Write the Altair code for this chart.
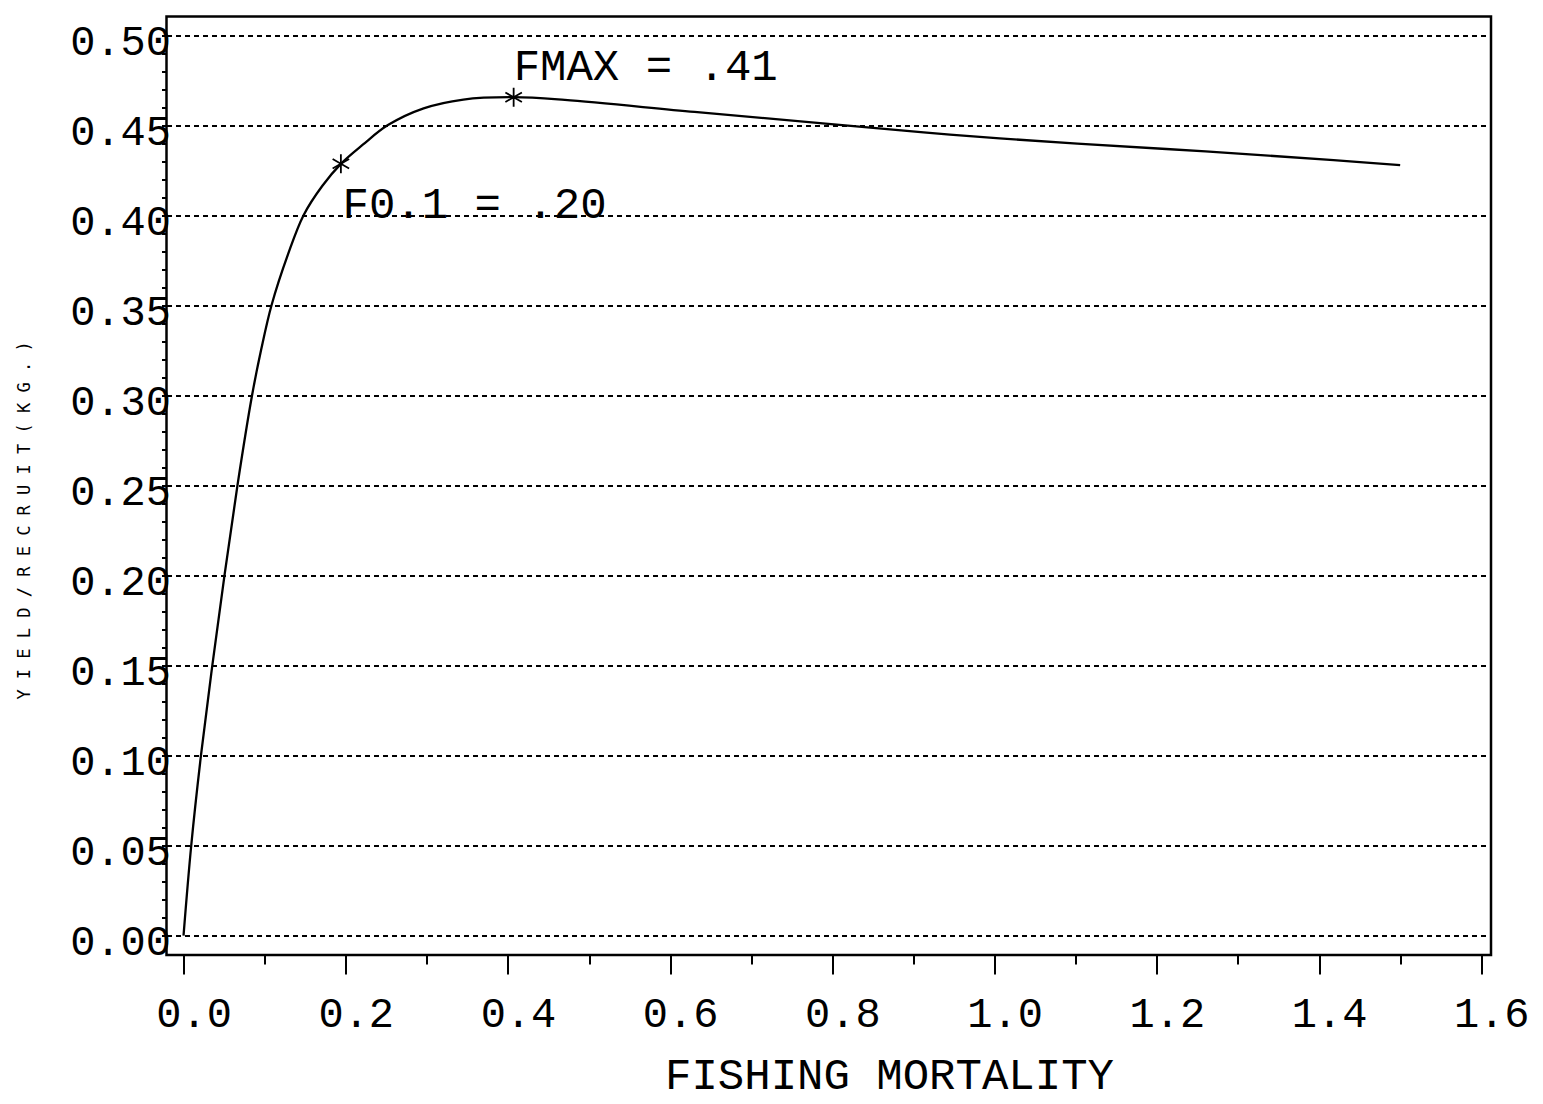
import altair as alt
import pandas as pd

# Yield-per-recruit curve
F = [0.0, 0.0095, 0.0215, 0.0355, 0.0505, 0.0665, 0.0845, 0.0958, 0.1085, 0.129,
     0.148, 0.171, 0.194, 0.221, 0.252, 0.296, 0.345, 0.407, 0.47, 0.63, 0.788,
     0.945, 1.102, 1.26, 1.418, 1.50]
YPR = [0.0, 0.05, 0.10, 0.15, 0.20, 0.25, 0.30, 0.3255, 0.35, 0.3785,
       0.40, 0.4162, 0.4285, 0.4391, 0.45, 0.4593, 0.4642, 0.4655, 0.4640, 0.4573, 0.451,
       0.4447, 0.4397, 0.4354, 0.4305, 0.4278]

# reference points (asterisks)
star_f = [0.194, 0.407]
star_y = [0.4285, 0.4655]

# annotations
ann_text = ["FMAX = .41", "F0.1 = .20"]
ann_x = [0.407, 0.196]
ann_y = [0.4753, 0.3985]

x_ticks = [round(i * 0.1, 1) for i in range(17)]
y_ticks = [round(i * 0.01, 2) for i in range(51)]

FONT = "Liberation Mono"

df = pd.DataFrame({"F": F, "Y": YPR})
stars = pd.DataFrame({"F": star_f, "Y": star_y})
ann = pd.DataFrame({"F": ann_x, "Y": ann_y, "label": ann_text})

xscale = alt.Scale(domain=[-0.021, 1.612], nice=False, zero=False)
yscale = alt.Scale(domain=[-0.0108, 0.5103], nice=False, zero=False)

xaxis = alt.Axis(
    values=x_ticks,
    labelExpr="round(datum.value*10) % 2 == 0 ? format(datum.value, '.1f') : ''",
    tickSize={"condition": {"test": "round(datum.value*10) % 2 == 0", "value": 19}, "value": 9},
    tickColor="black", tickWidth=2, domain=False, grid=False,
    labelFont=FONT, labelFontSize=42, labelColor="black",
    labelBaseline="alphabetic", labelPadding=52, labelOffset=10,
    labelOverlap=False, labelFlush=False, labelBound=False,
    title="FISHING MORTALITY", titleFont=FONT, titleFontSize=44,
    titleFontWeight="normal", titleColor="black", titleX=722.5, titleY=133,
    titleBaseline="alphabetic", titleAlign="center", titleAngle=0,
)

yaxis = alt.Axis(
    values=y_ticks,
    labelExpr="round(datum.value*100) % 5 == 0 ? format(datum.value, '.2f') : ''",
    tickSize=5, tickColor="black", tickWidth=2, domain=False,
    grid=True, gridColor="black", gridDash=[5, 4], gridWidth=2.2,
    gridOpacity={"condition": {"test": "round(datum.value*100) % 5 != 0", "value": 0}, "value": 1},
    labelFont=FONT, labelFontSize=42, labelColor="black",
    labelBaseline="alphabetic", labelPadding=-9, labelOffset=19,
    labelOverlap=False, labelFlush=False, labelBound=False,
    title="Y I E L D / R E C R U I T   ( K G . )", titleFont="DejaVu Sans Mono",
    titleFontSize=17, titleFontWeight="normal", titleColor="black",
    titleX=-142.5, titleY=503.5,
    titleAngle=270, titleBaseline="middle", titleAlign="center",
)

line = alt.Chart(df).mark_line(color="black", strokeWidth=2.3, interpolate="catmull-rom").encode(
    x=alt.X("F:Q", scale=xscale, axis=xaxis),
    y=alt.Y("Y:Q", scale=yscale, axis=yaxis),
)

star_path = "M0,-1L0,1M-0.87,-0.5L0.87,0.5M-0.87,0.5L0.87,-0.5"
pts = alt.Chart(stars).mark_point(shape=star_path, filled=False, stroke="black",
                                  strokeWidth=1.8, size=360, opacity=1).encode(
    x=alt.X("F:Q", scale=xscale, axis=xaxis),
    y=alt.Y("Y:Q", scale=yscale, axis=yaxis),
)

txt = alt.Chart(ann).mark_text(align="left", baseline="alphabetic", font=FONT,
                               fontSize=44, color="black").encode(
    x=alt.X("F:Q", scale=xscale, axis=xaxis),
    y=alt.Y("Y:Q", scale=yscale, axis=yaxis),
    text="label:N",
)

chart = alt.layer(line, pts, txt).properties(
    width=1324.5, height=938.5,
    padding={"left": 158.5, "top": 8.5, "right": 44, "bottom": 150},
    autosize=alt.AutoSizeParams(type="none"),
    background="white",
).configure_view(stroke="black", strokeWidth=2.5)

chart.save("out.html", embed_options={"renderer": "svg", "actions": False})
